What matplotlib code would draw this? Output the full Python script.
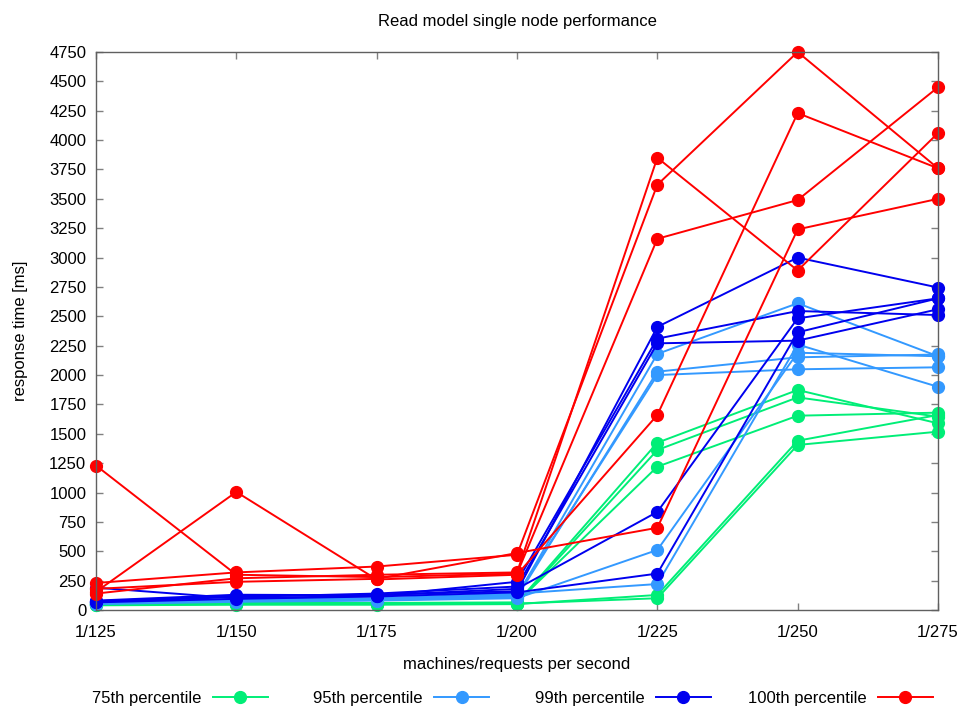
import matplotlib.pyplot as plt
import numpy as np

plt.rcParams['font.family'] = ['Liberation Sans', 'DejaVu Sans']

x_labels = ['1/125', '1/150', '1/175', '1/200', '1/225', '1/250', '1/275']

# five runs per percentile, response time in ms
p75_runs = [
    [50, 55, 55, 60, 1424, 1873, 1589],
    [45, 50, 50, 55, 1362, 1810, 1646],
    [55, 60, 60, 65, 1220, 1654, 1680],
    [40, 45, 45, 50, 128, 1441, 1660],
    [50, 50, 55, 55, 100, 1405, 1518],
]
p95_runs = [
    [60, 80, 90, 120, 2180, 2611, 2160],
    [55, 75, 85, 110, 2029, 2151, 2175],
    [65, 85, 95, 130, 2000, 2049, 2066],
    [50, 70, 80, 100, 511, 2190, 2160],
    [70, 90, 100, 140, 221, 2260, 1900],
]
p99_runs = [
    [75, 120, 130, 160, 2410, 3000, 2745],
    [190, 100, 120, 240, 2310, 2545, 2511],
    [70, 110, 140, 200, 2270, 2293, 2560],
    [80, 130, 125, 180, 835, 2483, 2653],
    [65, 95, 115, 150, 310, 2364, 2653],
]
p100_runs = [
    [230, 320, 370, 470, 3620, 4750, 3760],
    [140, 270, 300, 320, 3850, 2890, 4060],
    [1230, 300, 280, 310, 3160, 3490, 4450],
    [155, 1005, 260, 300, 1660, 4230, 3760],
    [180, 240, 265, 485, 700, 3240, 3500],
]

series = [
    ('75th percentile', '#00ee77', p75_runs),
    ('95th percentile', '#3399ff', p95_runs),
    ('99th percentile', '#0000ee', p99_runs),
    ('100th percentile', '#ff0000', p100_runs),
]

W, H = 961, 707
fig = plt.figure(figsize=(W / 100, H / 100), dpi=100)
ax = fig.add_axes([96 / W, 1 - 610 / H, (938 - 96) / W, (610 - 52) / H])

x = np.arange(len(x_labels))
handles = []
for label, color, runs in series:
    for i, run in enumerate(runs):
        ln, = ax.plot(x, run, color=color, lw=1.4, marker='o', ms=8.5,
                      clip_on=False)
        if i == 0:
            handles.append((ln, label))

ax.set_xlim(0, len(x_labels) - 1)
ax.set_ylim(0, 4750)
ax.set_xticks(x)
ax.set_xticklabels(x_labels)
ax.set_yticks(np.arange(0, 4751, 250))
ax.tick_params(direction='in', top=True, right=True, length=5, width=1,
               color='#808080', labelsize=12)
ax.tick_params(axis='x', pad=11)
ax.tick_params(axis='y', pad=7)
for s in ax.spines.values():
    s.set_color('#606060')
    s.set_linewidth(1)

ax.set_title('Read model single node performance', fontsize=12, pad=19)
ax.set_ylabel('response time [ms]', fontsize=12, labelpad=15)
ax.set_xlabel('machines/requests per second', fontsize=12, labelpad=12)

# gnuplot-style key: equal columns, right-aligned text then sample
col_right = [268, 489, 711, 933]
for (ln, label), xr in zip(handles, col_right):
    fig.legend([ln], [label], loc='center right',
               bbox_to_anchor=(xr / W, 1 - 698 / H),
               frameon=False, markerfirst=False, fontsize=12,
               handlelength=3.3, handletextpad=0.7,
               borderpad=0, borderaxespad=0)

fig.savefig('out.png', dpi=100)
